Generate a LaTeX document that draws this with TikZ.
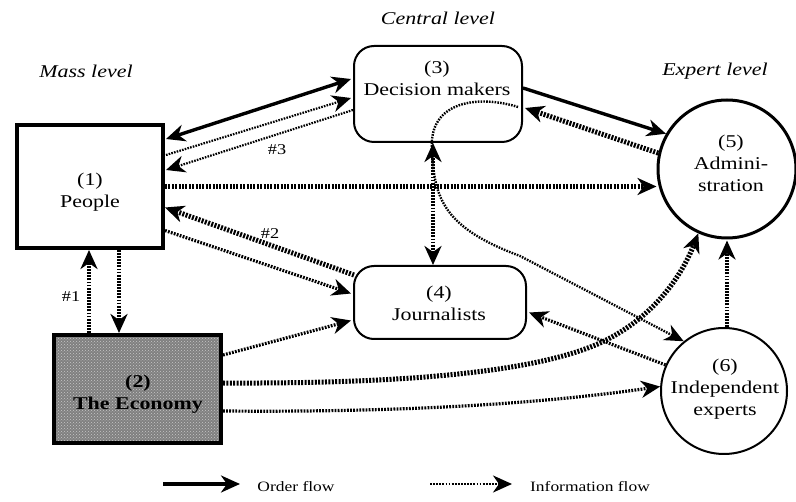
\documentclass[tikz,border=0pt]{standalone}
\usepackage{fontspec}
\setmainfont[FakeStretch=1.22]{Liberation Serif}
\usetikzlibrary{arrows.meta,calc,patterns}
\begin{document}
\begin{tikzpicture}[x=1pt,y=-1pt,
  >={Stealth[length=19pt,width=17pt,inset=6pt]},
  every node/.style={font=\fontsize{18}{22}\selectfont, align=center, inner sep=0pt},
  lvl/.style={font=\fontsize{18}{22}\selectfont\itshape},
  hashlbl/.style={font=\fontsize{15}{18}\selectfont},
  legendtxt/.style={font=\fontsize{14.3}{17}\selectfont},
  order/.style={line width=3.4pt, ->},
  infothick/.style={line width=5pt, dash pattern=on 2pt off 1.4pt, ->},
  infomed/.style={line width=3.2pt, dash pattern=on 1.8pt off 1.3pt, ->},
  infothin/.style={line width=2.2pt, dash pattern=on 1.6pt off 1.2pt, ->},
  roundbox/.style={draw, line width=2pt, rounded corners=20pt},
]
\useasboundingbox[fill=white] (0,0) rectangle (796,502);

% level labels
\node[lvl] (mass) at (86,71) {Mass level};
\node[lvl] (central) at (438,18) {Central level};
\node[lvl] (expert) at (715,71) {Expert level};

% main nodes
\node[draw, line width=4pt, minimum width=146pt, minimum height=123pt] (p1) at (90,186.5) {};
\node (t1) at (90,192) {(1)\\People};

\node[draw, line width=4pt, preaction={fill=black!50}, pattern=crosshatch dots, pattern color=black!22,
      minimum width=167pt, minimum height=108pt] (p2) at (137.5,389) {};
\node[font=\fontsize{18}{22}\selectfont\bfseries] (t2) at (138,394) {(2)\\The Economy};

\node[roundbox, minimum width=168pt, minimum height=96pt] (p3) at (438,94) {};
\node (t3) at (437,78) {(3)\\Decision makers};

\node[roundbox, minimum width=172pt, minimum height=73pt] (p4) at (440,302.5) {};
\node (t4) at (439,303) {(4)\\Journalists};

\node[draw, circle, line width=3pt, minimum size=138pt] (p5) at (727,169) {};
\node (t5) at (731,163) {(5)\\Admini-\\stration};

\node[draw, circle, line width=2pt, minimum size=126pt] (p6) at (724,391) {};
\node (t6) at (725,389) {(6)\\Independent\\experts};

% People <-> Decision makers
\draw[order, <->] ($(p1.north east)+(1,16)$) -- ($(p3.west)+(-2,-15)$);
\draw[infothin] ($(p1.north east)+(1,32)$) -- ($(p3.west)+(-2,4)$);
\draw[infothin] ($(p3.west)+(0,16)$) -- ($(p1.north east)+(1,47)$);
\node[hashlbl] (h3) at (277,150) {\#3};

% People -> Administration
\draw[infothick] (p1.east) -- (p1.east -| p5.west);

% Journalists -> People (#2)
\draw[infothick] ($(p4.north west)+(1,10)$) -- ($(p1.east)+(0,21)$);
\node[hashlbl] (h2) at (270,234) {\#2};

% People -> Journalists
\draw[infomed] ($(p1.east)+(0,44)$) -- ($(p4.west)+(-2,-9)$);

% People <-> Economy
\draw[infomed] ($(p2.north)+(-48.5,0)$) -- ($(p1.south)+(-1,0)$);
\node[hashlbl] (h1) at (71,297) {\#1};
\draw[infomed] ($(p1.south)+(29,0)$) -- ($(p2.north)+(-18.5,0)$);

% Economy -> Journalists
\draw[infomed] ($(p2.north east)+(0,22)$) -- ($(p4.west)+(-2,18)$);

% Economy -> Administration (curved)
\draw[infothick] ($(p2.north east)+(0,50)$) .. controls (420,384) and (540,370) .. (600,343)
   .. controls (650,320) and (680,280) .. (p5.246);

% Economy -> Independent experts
\draw[infomed] ($(p2.north east)+(0,78)$) .. controls (450,413) and (580,398) .. (p6.176);

% Independent experts -> Journalists
\draw[infomed] (p6.156) -- ($(p4.east)+(2,10)$);

% Independent experts -> Administration
\draw[infomed] ($(p6.north)+(3,0)$) -- ($(p5.south)+(0,1)$);

% Administration -> Decision makers
\draw[infothick] (p5.167) -- ($(p3.east)+(2,14)$);

% Decision makers -> Administration (order)
\draw[order] ($(p3.east)+(0,-6)$) -- (p5.150);

% Decision makers <-> Journalists
\draw[infomed, <->, line width=3.8pt] ($(p3.south)+(-5,0)$) -- ($(p4.north)+(-7,0)$);

% Decision makers -> Independent experts (curved)
\draw[infothin, line width=2.4pt] ($(p3.east)+(-5,13)$) .. controls (480,95) and (428,100) .. (432,150)
   .. controls (434,200) and (445,228) .. (520,256) -- (p6.129);

% legend
\coordinate (lo1) at (163,484);
\coordinate (lo2) at (240,484);
\draw[order, line width=3.8pt] (lo1) -- (lo2);
\node[legendtxt] (lot) at (296,487) {Order flow};
\coordinate (li1) at (430,484);
\coordinate (li2) at (512,484);
\draw[infomed, line width=2.8pt] (li1) -- (li2);
\node[legendtxt] (lit) at (590,487) {Information flow};
\end{tikzpicture}
\end{document}
